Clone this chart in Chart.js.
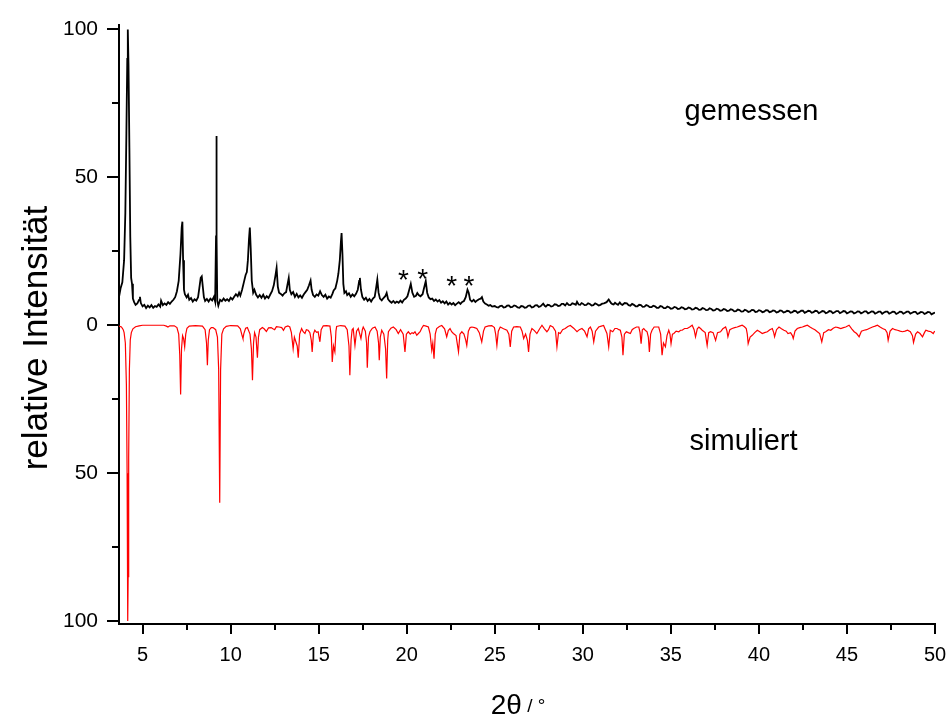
<!DOCTYPE html>
<html>
<head>
<meta charset="utf-8">
<script src="https://cdn.jsdelivr.net/npm/chart.js@4.4.1/dist/chart.umd.min.js"></script>
<style>
  html, body { margin: 0; padding: 0; background: #fff; }
  #wrap { width: 950px; height: 715px; position: relative; }
</style>
</head>
<body>
<div id="wrap"><canvas id="c" width="950" height="715"></canvas></div>
<script>
// ---- data (2θ in degrees, relative intensity) ----
const measured = [
[3.66,9.5],[3.75,12.5],[3.85,14.5],[3.95,22],[4.02,38],[4.08,65],[4.13,90],[4.16,100],[4.20,88],[4.25,60],[4.30,30],[4.35,16],[4.40,14],[4.45,9],[4.52,7.8],[4.60,6.9],[4.70,7.4],[4.80,8.6],[4.85,9.6],[4.90,7.5],
[5.00,6.4],[5.10,6.9],[5.20,5.8],[5.30,6.6],[5.40,6.0],[5.50,6.8],[5.60,5.9],[5.70,6.5],[5.80,6.2],[5.90,7.0],[6.00,6.3],[6.05,8.3],[6.15,6.8],[6.25,7.4],[6.35,6.9],[6.45,7.8],[6.55,7.2],[6.65,8.0],[6.75,8.6],[6.85,9.5],[6.95,11.5],
[7.05,15],[7.15,24],[7.22,33],[7.26,35],[7.30,22],[7.35,12],[7.40,10.5],[7.50,9.4],[7.58,10.3],[7.65,8.6],[7.75,9.2],[7.85,8.0],[7.95,8.8],[8.05,8.3],[8.15,9.5],[8.22,12.5],[8.30,16],[8.36,16.5],[8.42,13],[8.48,9.5],[8.55,8.2],[8.65,8.9],[8.75,8.0],[8.85,9.0],[8.95,8.4],
[9.05,9.6],[9.12,8.0],[9.17,30],[9.19,64],[9.21,30],[9.24,8.2],[9.30,6.6],[9.40,8.6],[9.50,8.1],[9.60,9.0],[9.70,8.3],[9.80,8.8],[9.90,8.2],[10.00,9.3],[10.10,8.7],[10.20,9.6],[10.30,10.5],[10.40,9.8],[10.48,11],[10.55,10],[10.65,12],[10.75,14.5],[10.85,17],[10.92,18],[10.98,22],
[11.04,29],[11.09,33],[11.14,26],[11.20,15],[11.28,11],[11.35,12],[11.45,10.3],[11.55,9.4],[11.65,10.2],[11.75,9.3],[11.85,10.3],[11.95,9.0],[12.05,9.8],[12.15,9.2],[12.25,10.4],[12.35,11.5],[12.45,13.5],[12.55,17],[12.61,19.4],[12.68,13],[12.75,11],[12.85,10.6],[12.95,10.0],
[13.05,10.8],[13.15,11.2],[13.22,13.5],[13.30,16.0],[13.36,12],[13.45,10.5],[13.55,11.2],[13.65,9.6],[13.75,10.6],[13.85,9.4],[13.95,10.1],[14.05,9.3],[14.15,10.4],[14.25,11.2],[14.35,12.0],[14.45,13.5],[14.54,15.1],[14.60,12],[14.68,10.2],[14.78,9.6],[14.88,10.4],[14.98,10.0],
[15.08,11.5],[15.18,10.2],[15.28,9.6],[15.38,10.3],[15.48,9.0],[15.58,9.7],[15.68,9.3],[15.78,10.6],[15.85,11.8],[15.95,12.5],[16.05,15],[16.12,17.5],[16.20,22],[16.26,28],[16.30,31.2],[16.35,24],[16.40,14],[16.46,10.9],[16.55,11.5],[16.62,10.2],[16.72,10.8],[16.82,9.6],[16.92,10.4],
[17.02,9.8],[17.12,10.6],[17.22,12],[17.30,15],[17.34,16],[17.40,12],[17.48,9.6],[17.58,8.6],[17.68,9.3],[17.78,8.2],[17.88,8.9],[17.98,8.0],[18.08,9.0],[18.18,9.6],[18.26,12.5],[18.33,15.4],[18.40,11],[18.48,9.0],[18.58,8.4],[18.68,9.2],[18.78,9.8],[18.86,10.9],[18.94,8.8],
[19.04,8.1],[19.14,7.6],[19.24,8.2],[19.34,7.5],[19.44,8.0],[19.54,7.6],[19.64,8.3],[19.74,7.7],[19.84,8.6],[19.94,9.0],[20.04,9.8],[20.12,11.5],[20.23,14.0],[20.32,11],[20.42,9.6],[20.52,9.9],[20.60,10.9],[20.68,10.2],[20.78,9.8],[20.90,10.5],[20.98,12.5],
[21.08,14.9],[21.16,11],[21.25,9.4],[21.35,8.8],[21.45,9.0],[21.55,8.2],[21.65,8.7],[21.75,8.0],[21.85,8.5],[21.95,7.6],[22.05,8.1],[22.15,7.4],[22.25,8.0],[22.35,7.0],[22.45,7.6],[22.55,7.0],[22.65,7.5],[22.75,6.8],[22.85,7.3],[22.95,7.8],
[23.05,7.2],[23.15,7.9],[23.25,8.2],[23.35,9.5],[23.45,12.0],[23.52,11],[23.60,8.6],[23.70,8.0],[23.80,8.6],[23.90,7.9],[24.00,8.4],[24.10,8.8],[24.20,9.0],[24.27,9.5],[24.35,8.0],[24.45,7.3],[24.55,7.0],[24.65,6.6],[24.75,6.8],[24.85,6.3],
[25.0,6.5],[25.1,6.1],[25.2,6.0],[25.3,6.5],[25.4,6.6],[25.5,6.0],[25.6,6.1],[25.7,6.6],[25.8,6.7],[25.9,6.1],[26.0,6.2],[26.1,6.7],[26.2,6.5],[26.3,6.0],[26.4,5.9],[26.5,6.5],[26.6,6.4],[26.7,5.9],[26.8,6.0],[26.9,6.6],[27.0,6.7],[27.1,6.0],[27.2,6.2],[27.3,6.7],[27.4,6.8],[27.5,6.2],[27.6,6.4],[27.75,7.3],[27.85,6.5],[27.9,6.3],[28.0,6.9],[28.1,6.8],[28.2,6.3],[28.3,6.5],[28.4,7.1],[28.5,7.0],[28.6,6.5],[28.7,6.6],[28.8,7.2],[28.9,7.2],[29.0,6.7],
[29.1,7.5],[29.2,6.9],[29.3,6.8],[29.4,7.4],[29.5,7.2],[29.6,6.9],[29.67,7.9],[29.76,7.0],[29.85,6.9],[29.93,7.5],[30.0,7.3],[30.1,6.8],[30.2,6.9],[30.3,7.4],[30.4,7.2],[30.5,6.7],[30.6,6.8],[30.7,7.4],[30.8,7.1],[30.9,6.7],[31.0,6.9],[31.1,7.3],[31.2,7.4],[31.35,7.8],[31.47,8.7],[31.6,7.5],[31.68,7.1],[31.75,7.0],[31.83,7.6],[31.9,7.3],[32.0,6.9],[32.1,7.7],[32.18,7.1],[32.25,6.9],[32.38,7.5],[32.5,7.4],[32.6,6.8],[32.7,6.6],[32.8,7.2],[32.9,6.9],
[33.0,6.4],[33.1,6.4],[33.2,6.9],[33.3,6.8],[33.4,6.2],[33.5,6.3],[33.6,6.8],[33.7,6.6],[33.8,6.1],[33.9,6.1],[34.0,6.6],[34.1,6.4],[34.2,5.9],[34.3,5.9],[34.4,6.5],[34.5,6.3],[34.6,5.8],[34.7,5.8],[34.8,6.3],[34.9,6.1],[35.0,5.6],[35.1,5.7],[35.2,6.2],[35.3,6.0],[35.4,5.5],[35.5,5.6],[35.6,6.1],[35.7,5.9],[35.8,5.4],[35.9,5.5],[36.0,6.0],[36.1,5.8],[36.2,5.3],[36.3,5.4],[36.4,5.9],[36.5,5.7],[36.6,5.2],[36.7,5.3],[36.8,5.8],[36.9,5.6],
[37.0,5.1],[37.1,5.2],[37.2,5.7],[37.3,5.5],[37.4,5.0],[37.5,5.1],[37.6,5.6],[37.7,5.4],[37.8,4.9],[37.9,5.0],[38.0,5.5],[38.1,5.3],[38.2,4.8],[38.3,4.9],[38.4,5.4],[38.5,5.2],[38.6,4.7],[38.7,4.8],[38.8,5.3],[38.9,5.1],[39.0,4.6],[39.1,4.7],[39.2,5.2],[39.3,5.0],[39.4,4.5],[39.5,4.7],[39.6,5.2],[39.7,5.1],[39.8,4.5],[39.9,4.6],
[40.0,5.1],[40.1,4.9],[40.2,4.4],[40.3,4.6],[40.4,5.1],[40.5,5.0],[40.6,4.4],[40.7,4.6],[40.8,5.0],[40.9,4.9],[41.0,4.3],[41.1,4.5],[41.2,5.0],[41.3,4.9],[41.4,4.3],[41.5,4.5],[41.6,4.9],[41.7,4.8],[41.8,4.2],[41.9,4.4],[42.0,4.9],[42.1,4.8],[42.2,4.2],[42.3,4.5],[42.4,4.9],[42.5,4.9],[42.6,4.2],[42.7,4.5],[42.8,4.9],[42.9,4.8],
[43.0,4.2],[43.1,4.4],[43.2,4.9],[43.3,4.8],[43.4,4.1],[43.5,4.4],[43.6,4.8],[43.7,4.7],[43.8,4.1],[43.9,4.3],[44.0,4.8],[44.1,4.7],[44.2,4.1],[44.3,4.4],[44.4,4.8],[44.5,4.8],[44.6,4.1],[44.7,4.4],[44.8,4.8],[44.9,4.7],
[45.0,4.0],[45.1,4.3],[45.2,4.7],[45.3,4.6],[45.4,4.0],[45.5,4.2],[45.6,4.7],[45.7,4.6],[45.8,4.0],[45.9,4.3],[46.0,4.7],[46.1,4.7],[46.2,4.0],[46.3,4.3],[46.4,4.7],[46.5,4.6],[46.6,3.9],[46.7,4.2],[46.8,4.6],[46.9,4.6],
[47.0,3.9],[47.1,4.3],[47.2,4.6],[47.3,4.6],[47.4,3.9],[47.5,4.2],[47.6,4.6],[47.7,4.5],[47.8,3.8],[47.9,4.1],[48.0,4.6],[48.1,4.5],[48.2,3.9],[48.3,4.2],[48.4,4.6],[48.5,4.6],[48.6,3.9],[48.7,4.2],[48.8,4.5],[48.9,4.5],
[49.0,3.8],[49.1,4.1],[49.2,4.5],[49.3,4.4],[49.4,3.8],[49.5,4.1],[49.6,4.5],[49.7,4.4],[49.8,3.7],[49.9,4.0],[50.0,4.3]
];

const simulated = [
[3.66,-0.3],[3.80,-0.6],[3.90,-1.5],[3.95,-2.5],[4.02,-6],[4.08,-20],[4.12,-50],[4.15,-90],[4.16,-100],[4.18,-85],[4.21,-45],[4.25,-15],[4.30,-5],[4.36,-2.5],[4.45,-1.2],[4.60,-0.5],[4.80,-0.2],[5.0,0],[6.2,0],[6.35,-0.3],[6.44,-0.6],[6.55,-0.2],[6.8,-0.2],
[6.95,-0.8],[7.05,-3],[7.11,-10],[7.16,-23.4],[7.21,-8],[7.27,-3.5],[7.33,-4.5],[7.39,-7.3],[7.45,-3],[7.52,-1.0],[7.65,-0.3],[8.0,-0.1],[8.4,-0.3],[8.55,-1.5],[8.63,-6],[8.68,-13.5],[8.73,-5],[8.80,-1.5],[8.90,-0.8],[9.00,-0.8],
[9.15,-1.5],[9.25,-4],[9.32,-15],[9.38,-60],[9.43,-15],[9.50,-3],[9.60,-1.2],[9.75,-0.4],[10.0,-0.1],[10.4,-0.2],[10.55,-1.2],[10.65,-3.5],[10.70,-4.5],[10.75,-2.8],[10.85,-1.0],[10.95,-0.8],
[11.10,-3],[11.18,-8],[11.24,-18.6],[11.30,-6],[11.36,-2.5],[11.44,-4],[11.52,-11],[11.58,-4],[11.65,-1.5],[11.80,-0.8],[11.90,-1.2],[12.03,-2.1],[12.15,-0.9],[12.30,-0.8],[12.40,-1.2],[12.50,-1.5],[12.60,-0.5],[12.75,-0.6],[12.90,-0.8],[13.00,-1.7],[13.10,-0.6],[13.25,-0.2],
[13.36,-0.6],[13.45,-2.5],[13.55,-7.9],[13.62,-4],[13.70,-5.5],[13.78,-7],[13.84,-11.0],[13.92,-3],[14.03,-1.1],[14.12,-2.2],[14.22,-2.8],[14.30,-1.5],[14.40,-1.7],[14.50,-2.5],[14.58,-5],[14.63,-9.0],[14.70,-3],[14.78,-1.7],[14.88,-2.4],[14.97,-2.2],
[15.02,-4],[15.07,-5.6],[15.14,-1.5],[15.26,-0.2],[15.45,-0.1],[15.64,-0.3],[15.72,-4],[15.77,-12.4],[15.84,-7],[15.92,-9.0],[15.98,-2],[16.02,-0.4],[16.25,-0.1],[16.49,-0.3],[16.62,-1.5],[16.72,-7],[16.77,-16.9],[16.84,-5],[16.90,-1.5],[16.96,-1.1],
[17.06,-6.8],[17.15,-2],[17.25,-1.1],[17.40,-4.5],[17.48,-1.5],[17.53,-0.6],[17.65,-2],[17.72,-6],[17.76,-14.4],[17.83,-4],[17.91,-2.2],[18.05,-1],[18.20,-0.6],[18.32,-2],[18.40,-6],[18.44,-11.8],[18.50,-4],[18.58,-1.7],[18.70,-3],[18.80,-8],[18.86,-18],[18.92,-5],[18.96,-2.2],
[19.10,-1],[19.24,-0.6],[19.40,-1.5],[19.52,-2.8],[19.65,-1.5],[19.80,-3],[19.90,-9.0],[19.98,-3],[20.09,-2.2],[20.20,-3],[20.30,-2.5],[20.38,-2.8],[20.47,-2.2],[20.57,-3.4],[20.66,-2.8],[20.76,-2.2],[20.85,-1.0],[20.95,-0.1],
[21.10,-0.3],[21.23,-0.6],[21.33,-3],[21.42,-8.4],[21.48,-6],[21.55,-11.3],[21.62,-3],[21.70,-1.1],[21.85,-0.4],[21.99,-0.1],[22.15,-1.2],[22.27,-3.9],[22.36,-1.8],[22.46,-1.1],[22.55,-2.2],[22.65,-2.8],[22.80,-3.5],[22.94,-9.0],
[23.02,-3],[23.13,-2.2],[23.25,-3],[23.35,-5],[23.41,-6.8],[23.50,-2],[23.60,-0.8],[23.70,-0.6],[23.85,-0.8],[23.98,-1.1],[24.12,-2.5],[24.26,-5.6],[24.36,-2],[24.45,-0.6],[24.65,-0.2],[24.83,-0.1],[24.98,-0.8],
[25.05,-3],[25.12,-6.8],[25.20,-2],[25.31,-0.6],[25.50,-1.2],[25.69,-1.7],[25.80,-3],[25.88,-7.3],[25.96,-2],[26.07,-0.6],[26.25,-0.5],[26.45,-0.6],[26.55,-2],[26.64,-4.5],[26.75,-3],[26.85,-5],[26.92,-9.0],
[27.00,-3],[27.11,-1.1],[27.25,-1.8],[27.39,-2.8],[27.55,-1.2],[27.68,0],[27.82,-1.2],[27.96,-2.2],[28.05,-1.5],[28.15,-0.1],[28.30,-0.6],[28.45,-2],[28.53,-7.3],[28.62,-2.5],[28.72,-2.8],[28.85,-1.5],
[29.00,-1.1],[29.15,-0.4],[29.29,-0.1],[29.48,-1.0],[29.67,-2.2],[29.80,-1.5],[29.95,-1.1],[30.10,-2],[30.24,-3.9],[30.33,-1.2],[30.43,-0.6],[30.53,-2],[30.62,-5.6],[30.72,-2],[30.90,-0.6],
[31.05,-0.3],[31.18,-0.1],[31.28,-1.5],[31.37,-2.8],[31.47,-7.3],[31.56,-1.7],[31.70,-2.2],[31.82,-1.1],[31.94,-1.1],[32.05,-1.5],[32.13,-1.7],[32.22,-4],[32.28,-10.1],[32.36,-3],[32.47,-2.2],[32.58,-2.5],[32.70,-2.8],[32.80,-1.5],[32.89,-1.1],
[33.05,-0.6],[33.18,-0.6],[33.25,-2.5],[33.31,-6.2],[33.38,-1.5],[33.46,-1.1],[33.56,-1.8],[33.65,-2.2],[33.72,-4],[33.78,-9.0],[33.85,-3],[33.93,-1.7],[34.05,-0.6],[34.12,-0.6],[34.22,-0.6],[34.31,-0.6],[34.42,-3],[34.50,-10.1],[34.58,-6],[34.69,-7.3],[34.78,-3.5],[34.88,-1.7],[34.95,-3],
[35.01,-6.2],[35.09,-3],[35.17,-2.8],[35.30,-2],[35.45,-2.2],[35.55,-1.7],[35.64,-1.7],[35.78,-1.1],[35.93,-1.1],[36.07,-0.6],[36.21,0],[36.32,-1.5],[36.40,-3.9],[36.50,-1.2],[36.59,-0.6],[36.70,-1.2],[36.78,-1.7],[36.95,-2.5],
[37.06,-6.8],[37.15,-2.5],[37.25,-2.2],[37.40,-2.5],[37.54,-5.1],[37.65,-2.5],[37.82,-2.2],[37.95,-1.2],[38.11,-0.6],[38.18,-1.8],[38.24,-3.9],[38.35,-1.5],[38.48,-1.1],[38.62,-0.8],[38.77,-0.6],[38.90,-0.3],
[39.05,0],[39.18,-0.5],[39.28,-1.1],[39.34,-3],[39.39,-6.2],[39.50,-4],[39.62,-3.4],[39.76,-2.5],[39.91,-1.7],[40.05,-2.2],[40.19,-2.8],[40.32,-2.5],[40.48,-2.2],[40.62,-1.5],[40.76,-1.1],[40.84,-2.5],[40.89,-3.9],
[41.00,-1.5],[41.14,-0.6],[41.28,-1.2],[41.42,-1.7],[41.55,-2],[41.65,-2.8],[41.80,-2.5],[41.90,-3.5],[41.95,-4.5],[42.05,-2],[42.18,-1.1],[42.32,-0.8],[42.47,-0.6],[42.60,-0.3],[42.75,0],[42.90,-0.6],
[43.04,-1.1],[43.18,-1.5],[43.32,-2.2],[43.45,-2.8],[43.57,-5.6],[43.68,-2.5],[43.79,-2.2],[43.95,-1.5],[44.08,-1.7],[44.22,-1.0],[44.36,-0.6],[44.50,-0.8],[44.65,-1.1],[44.80,-0.8],[44.93,-0.6],
[45.12,0],[45.27,-1.2],[45.41,-2.2],[45.55,-2.8],[45.69,-3.9],[45.82,-2],[45.97,-1.7],[46.12,-1.5],[46.26,-1.1],[46.45,-0.6],[46.60,-0.3],[46.73,0],[46.88,-0.6],
[47.02,-1.1],[47.18,-1.5],[47.28,-2.5],[47.34,-5.1],[47.45,-2],[47.59,-1.1],[47.73,-1.5],[47.87,-1.7],[48.02,-2],[48.15,-2.2],[48.30,-2],[48.44,-1.7],[48.60,-2.2],[48.72,-3.5],[48.78,-5.8],[48.90,-3],
[49.01,-2.2],[49.15,-2.8],[49.29,-3.9],[49.40,-2.5],[49.48,-1.7],[49.62,-2],[49.77,-2.2],[49.90,-2.8],[49.96,-2.2],[50.00,-2.0]
];

// peaks marked with an asterisk in the measured pattern
const starX = [19.81, 20.91, 22.56, 23.54];
const starY = [16.9, 17.1, 14.9, 14.9];

// axis ticks
const xTicks = [5, 10, 15, 20, 25, 30, 35, 40, 45, 50];
const xMinorTicks = [7.5, 12.5, 17.5, 22.5, 27.5, 32.5, 37.5, 42.5, 47.5];
const yTicks = [-100, -50, 0, 50, 100];
const yMinorTicks = [-75, -25, 25, 75];

const seriesLabels = ['gemessen', 'simuliert'];
const xTitle = ['2θ', ' / °'];
const yTitle = 'relative Intensität';

const FONT = '"Liberation Sans", Arial, sans-serif';

const overlay = {
  id: 'overlay',
  afterDraw(chart) {
    const ctx = chart.ctx;
    const xs = chart.scales.x, ys = chart.scales.y;
    ctx.save();
    ctx.strokeStyle = '#000';
    ctx.lineWidth = 2;
    // minor ticks
    const bottom = chart.chartArea.bottom, left = chart.chartArea.left;
    xMinorTicks.forEach(v => {
      const px = Math.round(xs.getPixelForValue(v));
      ctx.beginPath(); ctx.moveTo(px, bottom); ctx.lineTo(px, bottom + 6); ctx.stroke();
    });
    yMinorTicks.forEach(v => {
      const py = Math.round(ys.getPixelForValue(v));
      ctx.beginPath(); ctx.moveTo(left, py); ctx.lineTo(left - 7, py); ctx.stroke();
    });
    ctx.fillStyle = '#000';
    // series labels
    ctx.font = '29px ' + FONT;
    ctx.textAlign = 'center';
    ctx.textBaseline = 'middle';
    ctx.fillText(seriesLabels[0], xs.getPixelForValue(39.58), ys.getPixelForValue(72.2));
    ctx.fillText(seriesLabels[1], xs.getPixelForValue(39.13), ys.getPixelForValue(-39.6));
    // asterisks
    ctx.font = '28px ' + FONT;
    starX.forEach((x, i) => {
      ctx.fillText('*', xs.getPixelForValue(x), ys.getPixelForValue(starY[i]) + 6);
    });
    // y title
    ctx.save();
    ctx.translate(37, 338);
    ctx.rotate(-Math.PI / 2);
    ctx.font = '35px ' + FONT;
    ctx.textAlign = 'center';
    ctx.textBaseline = 'middle';
    ctx.fillText(yTitle, 0, 0);
    ctx.restore();
    // x title
    ctx.textAlign = 'left';
    ctx.textBaseline = 'alphabetic';
    ctx.font = '28px ' + FONT;
    const w1 = ctx.measureText(xTitle[0]).width;
    ctx.font = '19px ' + FONT;
    const w2 = ctx.measureText(xTitle[1]).width;
    const x0 = 518 - (w1 + w2) / 2;
    ctx.font = '28px ' + FONT;
    ctx.fillText(xTitle[0], x0, 714);
    ctx.font = '19px ' + FONT;
    ctx.fillText(xTitle[1], x0 + w1, 712);
    ctx.restore();
  }
};

new Chart(document.getElementById('c'), {
  type: 'line',
  data: {
    datasets: [
      {
        label: seriesLabels[0],
        data: measured.map(([x, y]) => ({ x, y })),
        borderColor: '#000',
        borderWidth: 1.8,
        pointRadius: 0,
        tension: 0,
        fill: false
      },
      {
        label: seriesLabels[1],
        data: simulated.map(([x, y]) => ({ x, y })),
        borderColor: '#ff0000',
        borderWidth: 1.2,
        pointRadius: 0,
        tension: 0,
        fill: false
      }
    ]
  },
  options: {
    responsive: false,
    animation: false,
    devicePixelRatio: 1,
    layout: { padding: { top: 25, right: 15, bottom: 0, left: 0 } },
    plugins: { legend: { display: false }, tooltip: { enabled: false }, title: { display: false } },
    scales: {
      x: {
        type: 'linear',
        min: 3.66,
        max: 50,
        afterBuildTicks: s => { s.ticks = xTicks.map(v => ({ value: v })); },
        afterFit: s => { s.height = 91; s.paddingLeft = 0; s.paddingRight = 0; },
        ticks: { color: '#000', font: { size: 20, family: FONT }, padding: 9, maxRotation: 0, autoSkip: false,
                 callback: v => String(v) },
        grid: { drawOnChartArea: false, drawTicks: true, tickLength: 10, color: '#000', lineWidth: 2 },
        border: { display: true, color: '#000', width: 2 }
      },
      y: {
        type: 'linear',
        min: -101,
        max: 101.5,
        afterBuildTicks: s => { s.ticks = yTicks.map(v => ({ value: v })); },
        afterFit: s => { s.width = 119; s.paddingTop = 0; s.paddingBottom = 0; },
        ticks: { color: '#000', font: { size: 21, family: FONT }, padding: 9, autoSkip: false,
                 callback: v => String(Math.abs(v)) },
        grid: { drawOnChartArea: false, drawTicks: true, tickLength: 12, color: '#000', lineWidth: 2 },
        border: { display: true, color: '#000', width: 2 }
      }
    }
  },
  plugins: [overlay]
});
</script>
</body>
</html>
